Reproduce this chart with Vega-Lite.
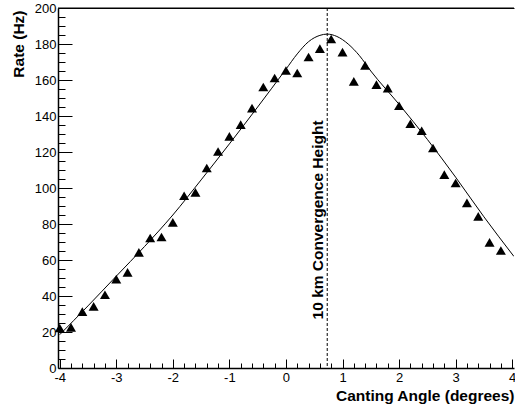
{
  "$schema": "https://vega.github.io/schema/vega-lite/v6.json",
  "width": 456,
  "height": 360,
  "autosize": {"type": "none"},
  "padding": {"left": 58, "top": 8, "right": 1, "bottom": 39},
  "background": "white",
  "config": {
    "view": {"stroke": null},
    "font": "Liberation Sans",
    "axis": {"grid": false, "zindex": 1, "domainColor": "black", "tickColor": "black", "labelColor": "black", "titleColor": "black", "labelOverlap": false, "labelFlush": false, "labelBound": false, "tickWidth": 1}
  },
  "datasets": {
    "curve": [
      {"angle": -4.0, "rate": 18.5},
      {"angle": -3.5, "rate": 34.5},
      {"angle": -3.0, "rate": 51},
      {"angle": -2.5, "rate": 67.5},
      {"angle": -2.0, "rate": 85},
      {"angle": -1.5, "rate": 104.5},
      {"angle": -1.0, "rate": 124.5},
      {"angle": -0.5, "rate": 145},
      {"angle": 0.0, "rate": 166},
      {"angle": 0.2, "rate": 174.5},
      {"angle": 0.4, "rate": 181.3},
      {"angle": 0.6, "rate": 184.8},
      {"angle": 0.73, "rate": 185.5},
      {"angle": 0.9, "rate": 184.2},
      {"angle": 1.1, "rate": 180},
      {"angle": 1.3, "rate": 173.5},
      {"angle": 1.5, "rate": 165},
      {"angle": 2.0, "rate": 146.5},
      {"angle": 2.5, "rate": 127},
      {"angle": 3.0, "rate": 106},
      {"angle": 3.5, "rate": 84},
      {"angle": 4.03, "rate": 62}
    ],
    "points": [
      {"angle": -4.0, "rate": 22.2},
      {"angle": -3.8, "rate": 22.6},
      {"angle": -3.6, "rate": 31.3},
      {"angle": -3.4, "rate": 34.2},
      {"angle": -3.2, "rate": 40.7},
      {"angle": -3.0, "rate": 49.4},
      {"angle": -2.8, "rate": 53.1},
      {"angle": -2.6, "rate": 64.2},
      {"angle": -2.4, "rate": 72.2},
      {"angle": -2.2, "rate": 72.8},
      {"angle": -2.0, "rate": 80.9},
      {"angle": -1.8, "rate": 95.7},
      {"angle": -1.6, "rate": 97.6},
      {"angle": -1.4, "rate": 111.1},
      {"angle": -1.2, "rate": 120.3},
      {"angle": -1.0, "rate": 128.7},
      {"angle": -0.8, "rate": 135.2},
      {"angle": -0.6, "rate": 144.4},
      {"angle": -0.4, "rate": 156.1},
      {"angle": -0.2, "rate": 161.1},
      {"angle": 0.0, "rate": 165.3},
      {"angle": 0.2, "rate": 163.9},
      {"angle": 0.4, "rate": 172.8},
      {"angle": 0.6, "rate": 177.4},
      {"angle": 0.8, "rate": 182.8},
      {"angle": 1.0, "rate": 175.5},
      {"angle": 1.2, "rate": 159.2},
      {"angle": 1.4, "rate": 168.1},
      {"angle": 1.6, "rate": 157.4},
      {"angle": 1.8, "rate": 155.5},
      {"angle": 2.0, "rate": 145.7},
      {"angle": 2.2, "rate": 135.7},
      {"angle": 2.4, "rate": 131.8},
      {"angle": 2.6, "rate": 122.2},
      {"angle": 2.8, "rate": 107.4},
      {"angle": 3.0, "rate": 102.8},
      {"angle": 3.2, "rate": 91.7},
      {"angle": 3.4, "rate": 84.2},
      {"angle": 3.6, "rate": 69.8},
      {"angle": 3.8, "rate": 65.3}
    ],
    "marker": [
      {"angle": 0.73, "label": "10 km Convergence Height"}
    ],
    "frame": [
      {"rate": 200}
    ]
  },
  "resolve": {"scale": {"x": "independent", "y": "independent"}, "axis": {"x": "independent", "y": "independent"}},
  "layer": [
    {
      "data": {"name": "curve"},
      "mark": {"type": "line", "color": "black", "strokeWidth": 1, "interpolate": "monotone", "clip": true},
      "encoding": {
        "x": {
          "field": "angle", "type": "quantitative",
          "scale": {"domain": [-4.03, 4.032], "nice": false, "zero": false},
          "axis": {
            "orient": "bottom",
            "values": [-4, -3, -2, -1, 0, 1, 2, 3, 4],
            "domain": true,
            "ticks": true,
            "tickSize": -9,
            "domainWidth": 1.5,
            "labelExpr": "datum.value < 0 ? '-' + abs(datum.value) : '' + datum.value",
            "labelPadding": 12,
            "labelFontSize": 13,
            "title": "Canting Angle (degrees)",
            "titleFontSize": 15.5,
            "titleFontWeight": "bold",
            "titleAngle": 0,
            "titleX": 456,
            "titleY": 32,
            "titleAlign": "right",
            "titleBaseline": "alphabetic"
          }
        },
        "y": {
          "field": "rate", "type": "quantitative",
          "scale": {"domain": [0, 200], "nice": false, "zero": false},
          "axis": {
            "orient": "left",
            "values": [0, 20, 40, 60, 80, 100, 120, 140, 160, 180, 200],
            "domain": true,
            "ticks": true,
            "tickSize": -14,
            "domainWidth": 1.5,
            "labelPadding": 16,
            "labelFontSize": 13,
            "title": "Rate (Hz)",
            "titleFontSize": 15.5,
            "titleFontWeight": "bold",
            "titleAngle": 270,
            "titleX": -40,
            "titleY": 2,
            "titleAlign": "right",
            "titleBaseline": "middle"
          }
        }
      }
    },
    {
      "data": {"name": "points"},
      "mark": {"type": "point", "shape": "triangle-up", "filled": true, "color": "black", "opacity": 1, "size": 100},
      "encoding": {
        "x": {"field": "angle", "type": "quantitative",
          "scale": {"domain": [-4.03, 4.032], "nice": false, "zero": false},
          "axis": {"orient": "bottom", "domain": false, "ticks": true, "labels": false, "title": null, "tickSize": -5,
            "values": [-3.8, -3.6, -3.4, -3.2, -2.8, -2.6, -2.4, -2.2, -1.8, -1.6, -1.4, -1.2, -0.8, -0.6, -0.4, -0.2, 0.2, 0.4, 0.6, 0.8, 1.2, 1.4, 1.6, 1.8, 2.2, 2.4, 2.6, 2.8, 3.2, 3.4, 3.6, 3.8]}},
        "y": {"field": "rate", "type": "quantitative",
          "scale": {"domain": [0, 200], "nice": false, "zero": false},
          "axis": {"orient": "left", "domain": false, "ticks": true, "labels": false, "title": null, "tickSize": -7,
            "values": [5, 10, 15, 25, 30, 35, 45, 50, 55, 65, 70, 75, 85, 90, 95, 105, 110, 115, 125, 130, 135, 145, 150, 155, 165, 170, 175, 185, 190, 195]}}
      }
    },
    {
      "data": {"name": "marker"},
      "mark": {"type": "rule", "color": "black", "strokeWidth": 1, "strokeDash": [3, 2]},
      "encoding": {
        "x": {"field": "angle", "type": "quantitative",
          "scale": {"domain": [-4.03, 4.032], "nice": false, "zero": false}, "axis": null}
      }
    },
    {
      "data": {"name": "frame"},
      "mark": {"type": "rule", "color": "black", "strokeWidth": 1},
      "encoding": {
        "y": {"field": "rate", "type": "quantitative",
          "scale": {"domain": [0, 200], "nice": false, "zero": false}, "axis": null}
      }
    },
    {
      "data": {"name": "marker"},
      "mark": {"type": "text", "angle": 270, "align": "left", "baseline": "alphabetic", "dy": -4, "fontSize": 15.5, "fontWeight": "bold", "color": "black"},
      "encoding": {
        "x": {"field": "angle", "type": "quantitative",
          "scale": {"domain": [-4.03, 4.032], "nice": false, "zero": false},
          "axis": {"orient": "top", "domain": true, "ticks": false, "labels": false, "title": null, "domainWidth": 1, "domainColor": "black"}},
        "y": {"datum": 27, "type": "quantitative",
          "scale": {"domain": [0, 200], "nice": false, "zero": false}, "axis": null},
        "text": {"field": "label"}
      }
    }
  ]
}
